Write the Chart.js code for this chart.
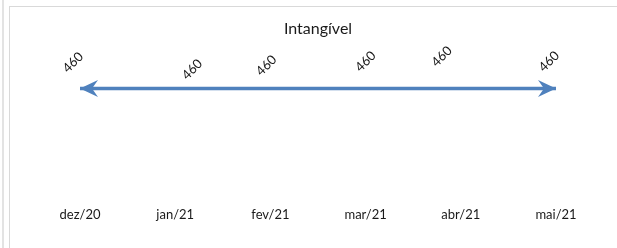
<!DOCTYPE html>
<html>
<head>
<meta charset="utf-8">
<script src="https://cdn.jsdelivr.net/npm/chart.js@4/dist/chart.umd.min.js"></script>
<style>
  body { margin: 0; background: #fff; }
  .strip { position: absolute; left: 2px; top: 0; width: 2px; height: 248px; background: #e3e3e3; }
  .frame { position: absolute; left: 9px; top: 6px; width: 608px; height: 242px; border-left: 1px solid #d9d9d9; border-top: 1px solid #d9d9d9; }
</style>
</head>
<body>
<div class="strip"></div>
<div class="frame"><canvas id="chart" width="607" height="241"></canvas></div>
<script>
const months = ['dez/20', 'jan/21', 'fev/21', 'mar/21', 'abr/21', 'mai/21'];
const intangivel = [460, 460, 460, 460, 460, 460];

// label nudges (dx, dy) relative to each point, as placed in the original
const labelShift = [[-7, -26], [17, -19], [-4, -23], [0, -27], [-19, -32], [-7, -27]];

const lineColor = '#4f81bd';
const fontFamily = 'Lato, "Noto Sans", sans-serif';

const arrowEnds = {
  id: 'arrowEnds',
  afterDatasetsDraw(chart) {
    const pts = chart.getDatasetMeta(0).data;
    if (pts.length < 2) return;
    const ctx = chart.ctx;
    const head = (tip, from) => {
      const ang = Math.atan2(tip.y - from.y, tip.x - from.x);
      ctx.save();
      ctx.translate(tip.x, tip.y);
      ctx.rotate(ang);
      ctx.fillStyle = lineColor;
      ctx.beginPath();
      ctx.moveTo(0, 0);
      ctx.lineTo(-18, -8.5);
      ctx.lineTo(-12, 0);
      ctx.lineTo(-18, 8.5);
      ctx.closePath();
      ctx.fill();
      ctx.restore();
    };
    head(pts[0], pts[1]);
    head(pts[pts.length - 1], pts[pts.length - 2]);
  }
};

const rotatedLabels = {
  id: 'rotatedLabels',
  afterDatasetsDraw(chart) {
    const ctx = chart.ctx;
    const ds = chart.data.datasets[0];
    chart.getDatasetMeta(0).data.forEach((pt, i) => {
      const s = labelShift[i] || [0, -25];
      ctx.save();
      ctx.translate(pt.x + s[0], pt.y + s[1]);
      ctx.rotate(-Math.PI / 4);
      ctx.font = '13px ' + fontFamily;
      ctx.fillStyle = '#1a1a1a';
      ctx.textAlign = 'center';
      ctx.textBaseline = 'middle';
      ctx.fillText(ds.data[i], 0, 0);
      ctx.restore();
    });
  }
};

new Chart(document.getElementById('chart'), {
  type: 'line',
  data: {
    labels: months,
    datasets: [{
      label: 'Intangível',
      data: intangivel,
      borderColor: lineColor,
      borderWidth: 3.5,
      pointRadius: 0,
      fill: false
    }]
  },
  options: {
    responsive: false,
    animation: false,
    layout: { padding: { left: 70, right: 61, top: 0, bottom: 22 } },
    plugins: {
      legend: { display: false },
      tooltip: { enabled: false },
      title: {
        display: true,
        text: 'Intangível',
        color: '#1a1a1a',
        font: { family: fontFamily, size: 16, weight: 'normal' },
        padding: { top: 12, bottom: 8 }
      }
    },
    scales: {
      x: {
        offset: false,
        grid: { display: false },
        border: { display: false },
        ticks: { color: '#1a1a1a', font: { family: fontFamily, size: 13 }, maxRotation: 0, autoSkip: false }
      },
      y: {
        display: false,
        min: 0,
        max: 640
      }
    }
  },
  plugins: [arrowEnds, rotatedLabels]
});
</script>
</body>
</html>
